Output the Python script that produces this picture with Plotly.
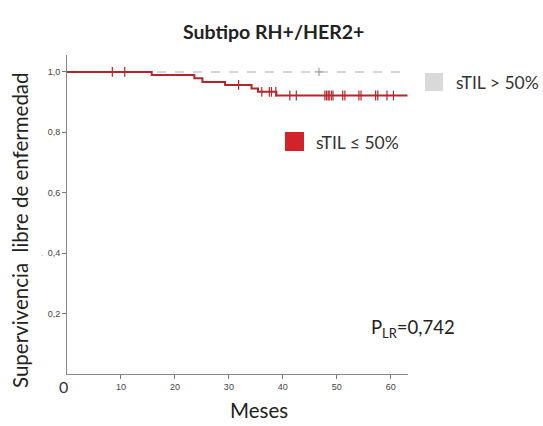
import plotly.graph_objects as go

# Kaplan-Meier step curve, sTIL <= 50% group
low_times = [0, 15.7, 23.6, 25.1, 29.3, 34.2, 35.4, 38.8, 63.1]
low_surv = [1.0, 0.990, 0.979, 0.967, 0.957, 0.945, 0.934, 0.922, 0.922]
low_cens_t = [8.4, 10.7, 31.8, 36.1, 37.5, 37.9, 38.7, 41.3, 42.5,
              47.8, 48.1, 48.4, 48.6, 49.0, 49.3, 51.1, 51.5, 54.1, 54.5,
              57.2, 57.6, 59.3, 60.5]

# sTIL > 50% group (no events)
high_times = [0, 63.0]
high_surv = [1.0, 1.0]
high_cens_t = [46.7]

x_ticks = [10, 20, 30, 40, 50, 60]
y_ticks = [0.2, 0.4, 0.6, 0.8, 1.0]

RED = "#b5262b"
GREY = "#c8c8c8"
FONT = "Lato"

# plot area in pixels
L, R, T, B = 67, 408, 55, 374
PW, PH = R - L, B - T


def px(x):
    return (x - L) / PW


def py(y):
    return (B - y) / PH


def step_value(t, times, surv):
    v = surv[0]
    for ti, si in zip(times, surv):
        if ti <= t:
            v = si
    return v


fig = go.Figure()

fig.add_trace(go.Scatter(
    x=high_times, y=high_surv, mode="lines", line_shape="hv",
    line=dict(color=GREY, width=1.5, dash="dash"), showlegend=False,
    hoverinfo="skip"))
fig.add_trace(go.Scatter(
    x=high_cens_t, y=[step_value(t, high_times, high_surv) for t in high_cens_t],
    mode="markers", marker=dict(symbol="cross-thin", size=6,
                                line=dict(color="#a0a0a0", width=1.2)),
    showlegend=False))

fig.add_trace(go.Scatter(
    x=low_times, y=low_surv, mode="lines", line_shape="hv",
    line=dict(color=RED, width=2), showlegend=False))
fig.add_trace(go.Scatter(
    x=low_cens_t, y=[step_value(t, low_times, low_surv) for t in low_cens_t],
    mode="markers", marker=dict(symbol="line-ns", size=7,
                                line=dict(color=RED, width=1.2)),
    showlegend=False))

fig.update_layout(
    width=543, height=426,
    margin=dict(l=L, r=543 - R, t=T, b=426 - B),
    paper_bgcolor="white", plot_bgcolor="white",
    separators=",.",
    showlegend=False,
    xaxis=dict(range=[0, 63.2], tickvals=x_ticks, ticks="outside", ticklen=4,
               tickcolor="#777", showline=True, linecolor="#888", linewidth=1,
               showgrid=False, zeroline=False, automargin=False,
               tickfont=dict(family="Liberation Sans", size=9, color="#444")),
    yaxis=dict(range=[0, 1.056], tickvals=y_ticks, tickformat=".1f",
               ticks="outside", ticklen=4, tickcolor="#777",
               showline=True, linecolor="#888", linewidth=1,
               showgrid=False, zeroline=False, automargin=False,
               tickfont=dict(family="Liberation Sans", size=9, color="#444")),
)

# title and axis titles
fig.add_annotation(x=px(273), y=py(32), xref="paper", yref="paper",
                   text="<b>Subtipo RH+/HER2+</b>", showarrow=False,
                   xanchor="center", yanchor="middle",
                   font=dict(family=FONT, size=19.5, color="#222"))
fig.add_annotation(x=px(259), y=py(410), xref="paper", yref="paper",
                   text="Meses", showarrow=False, xanchor="center",
                   yanchor="middle", font=dict(family=FONT, size=20.5, color="#222"))
fig.add_annotation(x=px(20), y=py(230), xref="paper", yref="paper",
                   text="Supervivencia  libre de enfermedad", showarrow=False,
                   textangle=-90, xanchor="center", yanchor="middle",
                   font=dict(family=FONT, size=20.5, color="#222"))
fig.add_annotation(x=px(42), y=py(253), xref="paper", yref="paper",
                   text=".", showarrow=False, xanchor="center", yanchor="middle",
                   font=dict(family="Liberation Sans", size=8, color="#888"))

# origin label on the time axis
fig.add_annotation(x=0, y=0, xref="x", yref="y", text="0", showarrow=False,
                   xanchor="center", yanchor="top", yshift=-1, xshift=-4,
                   font=dict(family=FONT, size=16, color="#333"))

# group key
fig.add_shape(type="rect", xref="paper", yref="paper",
              x0=px(425), x1=px(443), y0=py(91), y1=py(73),
              fillcolor="#d9d9d9", line=dict(width=0))
fig.add_annotation(x=px(454), y=py(82), xref="paper", yref="paper",
                   text="sTIL > 50%", showarrow=False, xanchor="left",
                   yanchor="middle", font=dict(family=FONT, size=17.5, color="#333"))
fig.add_shape(type="rect", xref="paper", yref="paper",
              x0=px(285), x1=px(304), y0=py(151), y1=py(132),
              fillcolor="#d2232a", line=dict(width=0))
fig.add_annotation(x=px(314), y=py(142), xref="paper", yref="paper",
                   text="sTIL ≤ 50%", showarrow=False, xanchor="left",
                   yanchor="middle", font=dict(family=FONT, size=17.5, color="#333"))

# log-rank p value
fig.add_annotation(x=px(369), y=py(328), xref="paper", yref="paper",
                   text="P<sub>LR</sub>=0,742", showarrow=False, xanchor="left",
                   yanchor="middle", font=dict(family=FONT, size=18.5, color="#222"))

fig.write_html("out.html")
